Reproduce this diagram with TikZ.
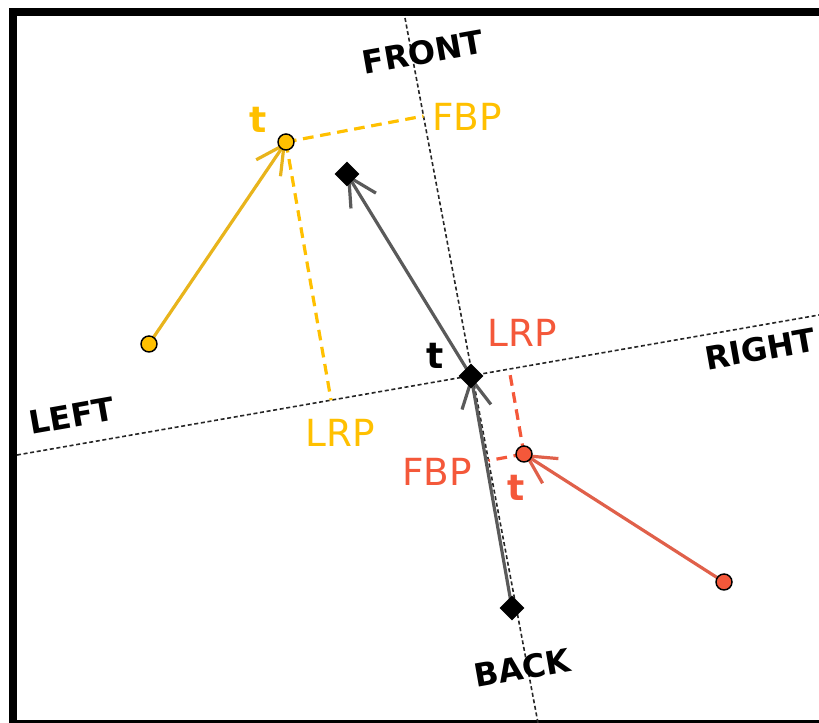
\documentclass[tikz,border=0pt]{standalone}
\usepackage{fontspec}
\setmainfont{DejaVu Sans}
\usetikzlibrary{arrows.meta,calc}
\definecolor{gold}{HTML}{FFC000}
\definecolor{goldline}{HTML}{E8B41C}
\definecolor{coral}{HTML}{F4583A}
\definecolor{coralline}{HTML}{E0604A}
\definecolor{steel}{HTML}{5A5A5A}
\begin{document}
\begin{tikzpicture}[x=0.75pt,y=-0.75pt,
  axis/.style={line width=1.2pt, black!85, dash pattern=on 3pt off 2pt},
  vec/.style={line width=2.4pt, -{Straight Barb[length=21pt,width=22pt]}},
  proj/.style={line width=2.4pt, dash pattern=on 8pt off 5pt},
  ptmark/.style={circle, draw=black, line width=1.1pt, minimum size=12pt, inner sep=0pt},
  dia/.style={rectangle, fill=black, rotate=45, minimum size=13pt, inner sep=0pt},
  side/.style={font=\bfseries\fontsize{24}{26}\selectfont, rotate=10},
  plabel/.style={font=\fontsize{28}{30}\selectfont},
  tlabel/.style={font=\bfseries\fontsize{27}{29}\selectfont}]
\useasboundingbox (0,0) rectangle (819,723);
\clip (0,0) rectangle (819,723);

% frame
\draw[line width=6pt] (12.5,12) rectangle (840,724);

% body axes
\coordinate (fa) at (405,18);
\coordinate (fb) at (538,723);
\coordinate (la) at (17,455);
\coordinate (lb) at (819,315);
\draw[axis] (fa) -- (fb);
\draw[axis] (la) -- (lb);

% axis names
\node[side] (front) at (423,52) {FRONT};
\node[side] (back)  at (522,668) {BACK};
\node[side] (left)  at (72,416) {LEFT};
\node[side] (right) at (760,349) {RIGHT};

% key points
\coordinate (c)  at (471,376);
\coordinate (f)  at (347,174);
\coordinate (b)  at (512,608);
\coordinate (y1) at (149,344);
\coordinate (y2) at (286,142);
\coordinate (r1) at (724,582);
\coordinate (r2) at (524,454);

% projections onto the axes
\coordinate (yf) at ($(fa)!(y2)!(fb)$);
\coordinate (yl) at ($(la)!(y2)!(lb)$);
\coordinate (rf) at ($(fa)!(r2)!(fb)$);
\coordinate (rl) at ($(la)!(r2)!(lb)$);
\draw[proj, gold] (y2) -- (yf);
\draw[proj, gold] (y2) -- (yl);
\draw[proj, coral] (r2) -- (rf);
\draw[proj, coral] (r2) -- (rl);

% motion vectors
\draw[vec, steel] (b) -- (c);
\draw[vec, steel] (c) -- (f);
\draw[vec, goldline] (y1) -- (y2);
\draw[vec, coralline] (r1) -- (r2);

% markers
\node[dia] (nc) at (c) {};
\node[dia] (nf) at (f) {};
\node[dia] (nb) at (b) {};
\node[ptmark, fill=gold] (ny1) at (y1) {};
\node[ptmark, fill=gold] (ny2) at (y2) {};
\node[ptmark, fill=coral] (nr1) at (r1) {};
\node[ptmark, fill=coral] (nr2) at (r2) {};

% labels
\node[plabel, text=gold] (yfbp) at (467,117) {FBP};
\node[plabel, text=gold] (ylrp) at (340,433) {LRP};
\node[plabel, text=coral] (rlrp) at (522,333) {LRP};
\node[plabel, text=coral] (rfbp) at (437,472) {FBP};
\node[tlabel, text=gold] (yt) at (258,120) {t};
\node[tlabel] (ct) at (435,356) {t};
\node[tlabel, text=coral] (rt) at (516,488) {t};
\end{tikzpicture}
\end{document}
